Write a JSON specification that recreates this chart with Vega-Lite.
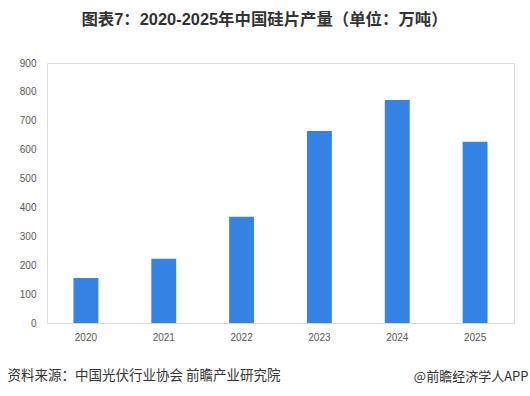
{
  "$schema": "https://vega.github.io/schema/vega-lite/v6.json",
  "autosize": {"type": "none"},
  "width": 467,
  "height": 260,
  "padding": {"left": 47, "top": 63, "right": 16, "bottom": 73},
  "background": "white",
  "title": {
    "text": "图表7：2020-2025年中国硅片产量（单位：万吨）",
    "font": "Liberation Sans, Noto Sans CJK SC",
    "fontSize": 16.4,
    "fontWeight": "bold",
    "color": "#333333",
    "anchor": "middle",
    "dx": -16,
    "baseline": "bottom",
    "offset": 34,
    "dy": 20
  },
  "data": {
    "values": [
      {"year": "2020", "value": 156},
      {"year": "2021", "value": 222},
      {"year": "2022", "value": 368},
      {"year": "2023", "value": 665},
      {"year": "2024", "value": 772},
      {"year": "2025", "value": 627}
    ]
  },
  "mark": {"type": "bar", "color": "#3683E6"},
  "encoding": {
    "x": {
      "field": "year",
      "type": "ordinal",
      "scale": {"paddingInner": 0.68, "paddingOuter": 0.34},
      "axis": {
        "labelAngle": 0,
        "labelFont": "Liberation Sans",
        "labelFontSize": 10,
        "labelColor": "#595959",
        "labelPadding": 9,
        "ticks": false,
        "domainColor": "#d9d9d9",
        "domainWidth": 1,
        "title": "资料来源：中国光伏行业协会 前瞻产业研究院",
        "titleFont": "Noto Sans CJK SC",
        "titleFontSize": 13.5,
        "titleFontWeight": "normal",
        "titleColor": "#333333",
        "titleAnchor": "start",
        "titleAlign": "left",
        "titleBaseline": "middle",
        "titleX": -40,
        "titleY": 52
      }
    },
    "y": {
      "field": "value",
      "type": "quantitative",
      "scale": {"domain": [0, 900]},
      "axis": {
        "values": [0, 100, 200, 300, 400, 500, 600, 700, 800, 900],
        "grid": false,
        "domain": false,
        "ticks": false,
        "labelFont": "Liberation Sans",
        "labelFontSize": 10,
        "labelColor": "#595959",
        "labelPadding": 11,
        "title": "@前瞻经济学人APP",
        "titleFont": "Noto Sans CJK SC",
        "titleFontSize": 13,
        "titleFontWeight": "normal",
        "titleColor": "#333333",
        "titleAngle": 0,
        "titleAlign": "right",
        "titleBaseline": "middle",
        "titleX": 481,
        "titleY": 313
      }
    }
  }
}
